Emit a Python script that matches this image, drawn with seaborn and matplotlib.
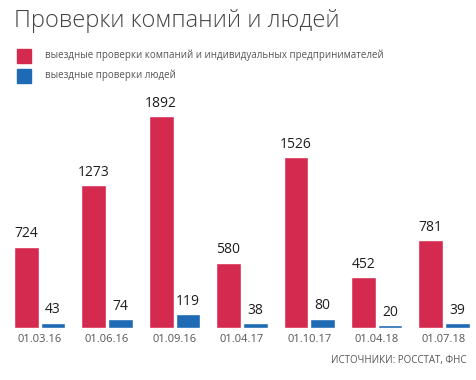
import pandas as pd
import seaborn as sns
import matplotlib.pyplot as plt
from matplotlib.patches import Rectangle

# Data
dates = ["01.03.16", "01.06.16", "01.09.16", "01.04.17", "01.10.17", "01.04.18", "01.07.18"]
companies = [724, 1273, 1892, 580, 1526, 452, 781]
people = [43, 74, 119, 38, 80, 20, 39]
series_names = [
    "выездные проверки компаний и индивидуальных предпринимателей",
    "выездные проверки людей",
]
title = "Проверки компаний и людей"
source = "ИСТОЧНИКИ: РОССТАТ, ФНС"

RED = "#D52A4F"
BLUE = "#1F6AB4"

sns.set_theme(style="white")
plt.rcParams["font.family"] = ["Open Sans", "DejaVu Sans"]

df = pd.DataFrame({
    "date": dates * 2,
    "value": companies + people,
    "series": [series_names[0]] * len(dates) + [series_names[1]] * len(dates),
})

W, H = 477, 380
fig = plt.figure(figsize=(W / 100, H / 100), dpi=100)
base = 52.3
ax = fig.add_axes([0, base / H, 1, 211.5 / H])

sns.barplot(
    data=df, x="date", y="value", hue="series",
    palette=[RED, BLUE], width=0.792, gap=0.075,
    saturation=1, legend=False, ax=ax,
)

# numbers over the bars
for cont in ax.containers:
    ax.bar_label(cont, padding=4, fontsize=10, fontweight="medium", color="#1e1e1e")

ax.set_xlim(-0.589, 6.488)
ax.set_ylim(0, max(companies))
ax.set_xlabel("")
ax.set_ylabel("")
ax.set_yticks([])
ax.tick_params(axis="x", length=0, pad=4.5, labelsize=8, labelcolor="#555555")
sns.despine(ax=ax, left=True, bottom=True)
ax.patch.set_alpha(0)

# title, legend and source
fig.text(14 / W, 1 - 21 / H, title, fontsize=17, fontweight="light",
         color="#444444", va="center", ha="left")
for i, (name, col) in enumerate(zip(series_names, [RED, BLUE])):
    yc = 56 + i * 19.5
    fig.patches.append(Rectangle((17 / W, 1 - (yc + 7) / H), 14 / W, 14 / H,
                                 transform=fig.transFigure, color=col))
    fig.text(45.5 / W, 1 - (yc - 0.5) / H, name, fontsize=7, color="#555555",
             va="center", ha="left")
fig.text(467 / W, 1 - 360 / H, source, fontsize=7, color="#555555",
         va="center", ha="right")

fig.savefig("out.png", dpi=100)
